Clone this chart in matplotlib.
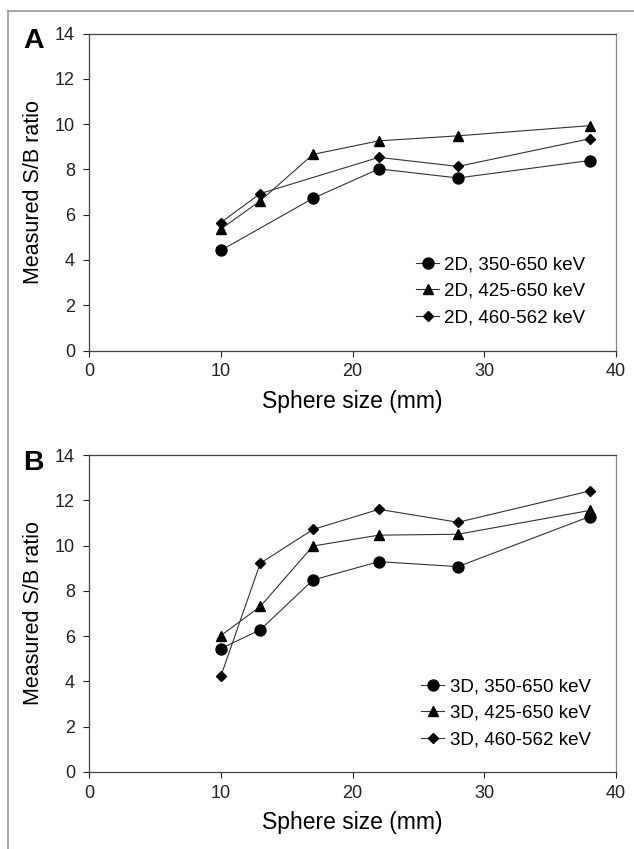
import matplotlib.pyplot as plt
from matplotlib.lines import Line2D
import numpy as np

plt.rcParams['font.family'] = ['Liberation Sans', 'DejaVu Sans']

# sphere sizes (mm)
sizes = [10, 13, 17, 22, 28, 38]

# panel A, 2D (None = no point measured)
a_350_650 = [4.42, None, 6.72, 8.02, 7.62, 8.39]
a_425_650 = [5.36, 6.61, 8.66, 9.26, 9.48, 9.93]
a_460_562 = [5.65, 6.93, None, 8.53, 8.13, 9.35]

# panel B, 3D
b_350_650 = [5.45, 6.28, 8.48, 9.29, 9.07, 11.28]
b_425_650 = [6.02, 7.31, 9.98, 10.46, 10.50, 11.55]
b_460_562 = [4.22, 9.22, 10.71, 11.60, 11.03, 12.41]

energy_windows = ['350-650 keV', '425-650 keV', '460-562 keV']
markers = ['o', '^', 'D']
msizes = [7.9, 7.4, 4.8]

W, H = 634, 849
fig = plt.figure(figsize=(W / 100, H / 100), dpi=100)

# grey frame round the figure (top and left only, as in the scan)
fig.add_artist(Line2D([7.5 / W, 7.5 / W], [0, 1 - 10.5 / H], transform=fig.transFigure,
                      color='#999999', lw=1.2))
fig.add_artist(Line2D([7.5 / W, 1], [1 - 10.5 / H, 1 - 10.5 / H], transform=fig.transFigure,
                      color='#999999', lw=1.2))


def draw_panel(top, bottom, series, mode, letter, letter_base, leg_xy):
    ax = fig.add_axes([89 / W, 1 - bottom / H, (616 - 89) / W, (bottom - top) / H])
    for vals, lab, m, ms in zip(series, energy_windows, markers, msizes):
        x = [s for s, v in zip(sizes, vals) if v is not None]
        y = [v for v in vals if v is not None]
        ax.plot(x, y, color='#333333', lw=0.8, marker=m, ms=ms,
                mfc='black', mec='black', label=f'{mode}, {lab}')
    ax.set_xlim(0, 40)
    ax.set_ylim(0, 14)
    ax.set_xticks(np.arange(0, 41, 10))
    ax.set_yticks(np.arange(0, 15, 2))
    ax.tick_params(direction='out', length=4, width=0.8, labelsize=13,
                   colors='#222222')
    ax.tick_params(axis='x', pad=5)
    ax.tick_params(axis='y', pad=6)
    for sp in ax.spines.values():
        sp.set_color('#444444')
        sp.set_linewidth(0.9)
    ax.spines['right'].set_color('#888888')
    ax.set_xlabel('Sphere size (mm)', fontsize=16.5, labelpad=7)
    ax.set_ylabel('Measured S/B ratio', fontsize=15.5, labelpad=8)
    ax.legend(loc='upper left', bbox_to_anchor=(leg_xy[0] / W, 1 - leg_xy[1] / H),
              bbox_transform=fig.transFigure, frameon=False,
              fontsize=13.5, handlelength=1.25, handletextpad=0.27,
              labelspacing=0.5, borderpad=0, borderaxespad=0)
    fig.text(23 / W, 1 - letter_base / H, letter, fontsize=20.5,
             fontweight='bold', va='baseline', ha='left')
    return ax


draw_panel(33.5, 350.5, [a_350_650, a_425_650, a_460_562], '2D', 'A', 48, (416, 256))
draw_panel(455, 772, [b_350_650, b_425_650, b_460_562], '3D', 'B', 470, (421, 678))

fig.savefig('out.png', dpi=100)
